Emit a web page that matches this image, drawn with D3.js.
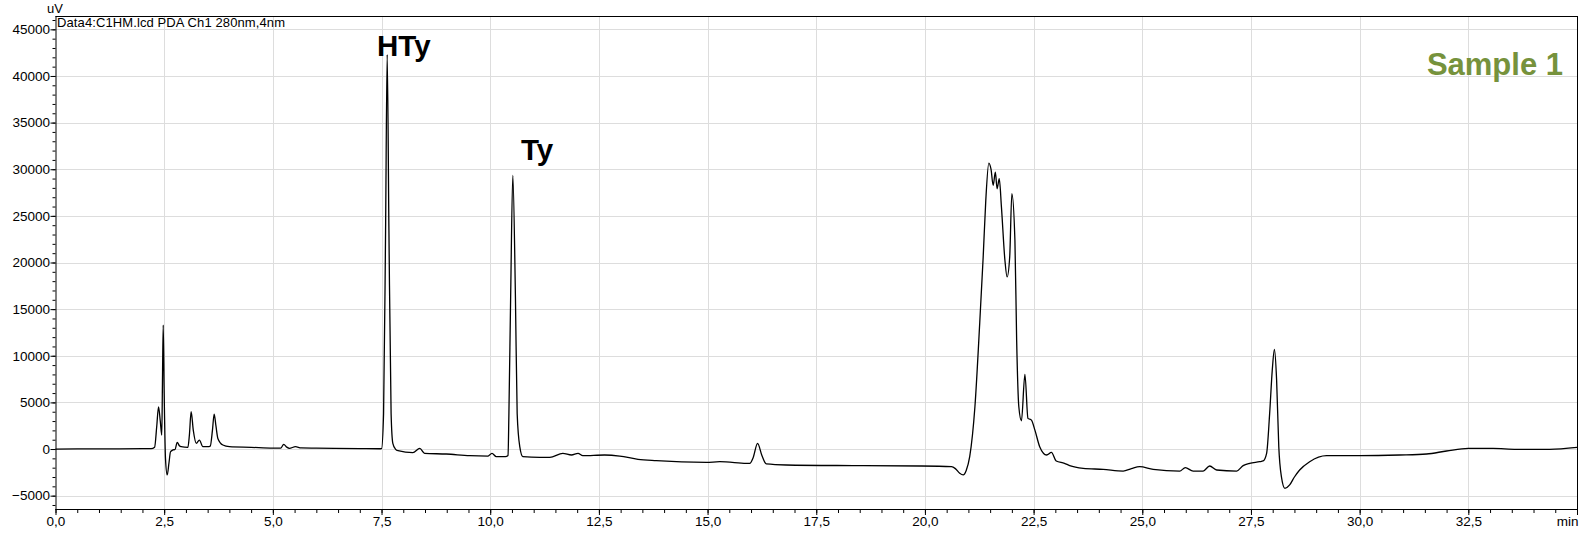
<!DOCTYPE html>
<html>
<head>
<meta charset="utf-8">
<script src="https://cdn.jsdelivr.net/npm/d3@7"></script>
<style>
  html, body { margin: 0; padding: 0; background: #fff; }
  svg { display: block; }
  text { font-family: "Liberation Sans", Arial, sans-serif; }
</style>
</head>
<body>
<svg id="chart" width="1580" height="534"></svg>
<script>
// ---- data (time in min, signal in uV) ----
const timeMin = [
  0.0, 1.0, 2.0, 2.2, 2.28, 2.33, 2.37, 2.41, 2.445, 2.46, 2.478, 2.50, 2.53, 2.57, 2.61, 2.646, 2.70, 2.75, 2.80, 2.85, 2.89,
  3.045, 3.08, 3.12, 3.17, 3.24, 3.31, 3.39, 3.50, 3.56, 3.61, 3.65, 3.69, 3.735, 3.85, 4.0, 4.5, 5.0, 5.18, 5.25, 5.32,
  5.38, 5.52, 5.65, 6.0, 7.0, 7.45, 7.50, 7.547, 7.593, 7.63, 7.67, 7.72, 7.76, 7.82, 7.88, 8.22, 8.38, 8.49, 8.99,
  9.53, 9.95, 10.04, 10.14, 10.35, 10.41, 10.43, 10.47, 10.52, 10.58, 10.62, 10.68, 10.75, 11.14, 11.37, 11.67, 11.87,
  12.02, 12.13, 12.63, 12.98, 13.40, 13.82, 14.97, 15.28, 15.89, 15.97, 16.05, 16.15, 16.25, 16.35, 16.81, 18.35,
  19.88, 20.61, 20.70, 20.80, 20.88, 20.95, 21.03, 21.15, 21.26, 21.34, 21.40, 21.47, 21.52, 21.57, 21.62, 21.66,
  21.71, 21.76, 21.84, 21.89, 21.95, 22.00, 22.07, 22.11, 22.16, 22.22, 22.30, 22.37, 22.45, 22.53, 22.64, 22.80,
  22.91, 23.02, 23.21, 23.33, 23.64, 24.10, 24.56, 24.75, 24.94, 25.25, 25.86, 25.99, 26.17, 26.40, 26.55, 26.71,
  27.17, 27.32, 27.47, 27.70, 27.78, 27.86, 27.93, 27.99, 28.04, 28.09, 28.14, 28.20, 28.28, 28.39, 28.50, 28.62,
  28.85, 29.24, 30.0, 30.92, 31.54, 32.0, 32.5, 33.07, 33.61, 34.37, 35.0
];
const signalUV = [
  0, 20, 40, 50, 200, 2500, 4530, 3000, 1500, 7000, 13280, 6000, -1000, -2780, -1500, -290, -100, -50, 720, 350, 250,
  180, 1500, 4000, 2000, 610, 960, 250, 250, 320, 2000, 3750, 2500, 1140, 430, 250, 180, 100, 100, 500, 200,
  80, 250, 120, 100, 50, 30, 50, 3820, 23450, 42290, 23450, 3820, 610, 0, -180, -390, 70, -460, -535,
  -710, -750, -460, -820, -820, -700, 3820, 16300, 29340, 16300, 3820, 250, -820, -890, -890, -460, -640,
  -460, -710, -640, -750, -1100, -1250, -1430, -1360, -1530, -1540, -900, 610, -700, -1600, -1710, -1780,
  -1820, -1890, -2100, -2600, -2780, -2300, -820, 4530, 13460, 20590, 26660, 30650, 30000, 28270, 29690, 27910,
  28980, 25940, 20240, 18450, 20590, 27380, 22380, 11670, 4530, 3030, 8000, 3290, 3100, 2030, 250, -640,
  -360, -1280, -1530, -1780, -2070, -2180, -2360, -2100, -1890, -2180, -2360, -2000, -2360, -2360, -1820, -2250,
  -2360, -1780, -1530, -1360, -1280, -460, 3820, 8460, 10670, 7390, 250, -2960, -4210, -3850, -3000, -2250,
  -1360, -710, -710, -640, -535, -210, 70, 70, -30, -30, 180
];
const xTickValues = [0, 2.5, 5, 7.5, 10, 12.5, 15, 17.5, 20, 22.5, 25, 27.5, 30, 32.5, 35];
const xTickLabels = ["0,0", "2,5", "5,0", "7,5", "10,0", "12,5", "15,0", "17,5", "20,0", "22,5", "25,0", "27,5", "30,0", "32,5", "min"];
const yTickValues = [-5000, 0, 5000, 10000, 15000, 20000, 25000, 30000, 35000, 40000, 45000];
const peakNames = ["HTy", "Ty"];
const sampleTitle = "Sample 1";
const dataHeader = "Data4:C1HM.lcd PDA Ch1 280nm,4nm";
const yUnit = "uV";

// ---- layout ----
const pL = 55.5, pR = 1577, pT = 16, pB = 509;
const svg = d3.select("#chart");
const x = d3.scaleLinear().domain([0, 35]).range([pL, pR]);
const y = d3.scaleLinear().domain([-6430, 46430]).range([pB, pT]);

// grid
const grid = svg.append("g").attr("stroke", "#dddddd").attr("stroke-width", 1);
grid.selectAll("line.v").data(xTickValues.filter(v => v > 0 && v < 35)).enter().append("line")
  .attr("x1", d => Math.round(x(d)) + 0.5).attr("x2", d => Math.round(x(d)) + 0.5)
  .attr("y1", pT).attr("y2", pB);
grid.selectAll("line.h").data(yTickValues).enter().append("line")
  .attr("x1", pL).attr("x2", pR)
  .attr("y1", d => Math.round(y(d)) + 0.5).attr("y2", d => Math.round(y(d)) + 0.5);

// trace
const pts = timeMin.map((t, i) => [t, signalUV[i]]);
svg.append("path").datum(pts)
  .attr("fill", "none").attr("stroke", "#000").attr("stroke-width", 1.3)
  .attr("stroke-linejoin", "round")
  .attr("d", d3.line().x(d => x(d[0])).y(d => y(d[1])).curve(d3.curveMonotoneX));

// frame (top and right)
svg.append("line").attr("x1", pL).attr("x2", pR + 0.5).attr("y1", pT + 0.5).attr("y2", pT + 0.5).attr("stroke", "#000");
svg.append("line").attr("x1", pR + 0.5).attr("x2", pR + 0.5).attr("y1", pT).attr("y2", pB).attr("stroke", "#000");

// x axis
const xMinor = d3.range(0, 35.001, 0.5);
const xAxisG = svg.append("g").attr("transform", `translate(0,${pB})`);
xAxisG.call(d3.axisBottom(x).tickValues(xMinor).tickSize(4).tickFormat(""))
  .call(g => g.select(".domain").remove());
xAxisG.append("g").call(d3.axisBottom(x).tickValues(xTickValues).tickSize(6)
  .tickFormat((d, i) => xTickLabels[i]))
  .call(g => g.select(".domain").remove())
  .call(g => g.selectAll("text").attr("font-size", "13.5px").attr("fill", "#000")
    .attr("font-family", "Liberation Sans, Arial, sans-serif").attr("dy", "0.95em").attr("y", 4))
  .call(g => g.selectAll(".tick").filter(d => d === 35).select("text").attr("text-anchor", "end").attr("x", 1));
xAxisG.selectAll("line").attr("stroke", "#000");
svg.append("line").attr("x1", pL).attr("x2", pR + 1).attr("y1", pB + 0.5).attr("y2", pB + 0.5).attr("stroke", "#000");

// y axis
const yMinor = d3.range(-6000, 46001, 1000);
const yAxisG = svg.append("g").attr("transform", `translate(${pL},0)`);
yAxisG.call(d3.axisLeft(y).tickValues(yMinor).tickSize(3).tickFormat(""))
  .call(g => g.select(".domain").remove());
yAxisG.append("g").call(d3.axisLeft(y).tickValues(yTickValues).tickSize(5).tickFormat(d3.format("d")))
  .call(g => g.select(".domain").remove())
  .call(g => g.selectAll("text").attr("font-size", "13.5px").attr("fill", "#000")
    .attr("font-family", "Liberation Sans, Arial, sans-serif").attr("x", -5.5));
yAxisG.selectAll("line").attr("stroke", "#000");
svg.append("line").attr("x1", pL + 0.5).attr("x2", pL + 0.5).attr("y1", pT).attr("y2", pB + 1).attr("stroke", "#000");

// texts
svg.append("text").attr("x", 55).attr("y", 13).attr("text-anchor", "middle")
  .attr("font-size", "13px").text(yUnit);
svg.append("text").attr("x", 57).attr("y", 27).attr("font-size", "13px")
  .attr("textLength", 228).attr("lengthAdjust", "spacing").text(dataHeader);

const labelPos = [[377, 56], [521, 160]];
svg.selectAll("text.peak").data(peakNames).enter().append("text")
  .attr("class", "peak")
  .attr("x", (d, i) => labelPos[i][0]).attr("y", (d, i) => labelPos[i][1])
  .attr("font-size", "29.5px").attr("font-weight", "bold").attr("fill", "#000")
  .text(d => d);

svg.append("text").attr("x", 1563).attr("y", 74.5).attr("text-anchor", "end")
  .attr("font-family", "Lato, 'Open Sans', sans-serif").attr("font-weight", "bold")
  .attr("font-size", "31px").attr("fill", "#76923c").text(sampleTitle);
</script>
</body>
</html>
